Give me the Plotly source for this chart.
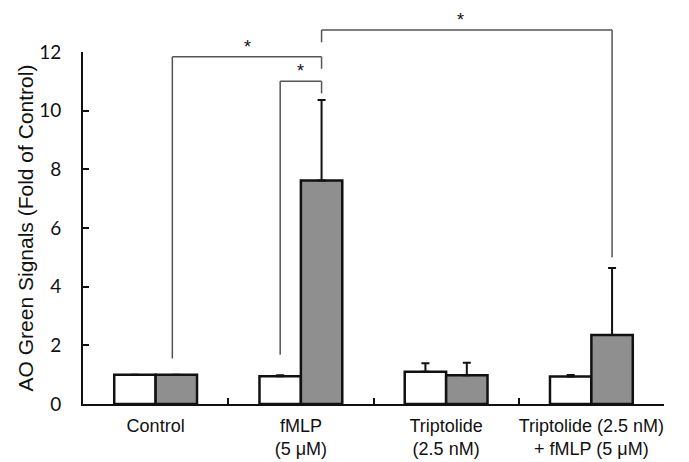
import plotly.graph_objects as go

categories = ["Control", "fMLP<br>(5 μM)", "Triptolide<br>(2.5 nM)", "Triptolide (2.5 nM)<br>+ fMLP (5 μM)"]
white_vals = [1.0, 0.95, 1.10, 0.94]
white_err = [0.0, 0.03, 0.29, 0.05]
grey_vals = [1.0, 7.62, 0.98, 2.35]
grey_err = [0.0, 2.74, 0.43, 2.29]

y_ticks = [0, 2, 4, 6, 8, 10, 12]
Y_MAX = 12

# significance brackets: x_left, x_right (category index units), y_left_bottom, y_top, y_right_bottom
brackets = [
    (0.115, 1.1425, 1.55, 11.84, 11.43),
    (0.8575, 1.1425, 1.68, 11.00, 10.59),
    (1.1425, 3.1425, 12.33, 12.75, 5.00),
]
stars_x = [0.635, 1.0, 2.10]
stars_y = [11.84, 11.00, 12.75]

fig = go.Figure()
for vals, errs, col in [(white_vals, white_err, "white"), (grey_vals, grey_err, "#8f8f8f")]:
    fig.add_trace(go.Bar(
        x=categories, y=vals,
        marker=dict(color=col, line=dict(color="#111111", width=2.5)),
        error_y=dict(type="data", symmetric=False, array=errs, arrayminus=[0] * len(errs),
                     color="#111111", thickness=2, width=4),
        showlegend=False,
    ))


def py(v):
    return v / Y_MAX


shapes = []
for (xl, xr, yl, yt, yr) in brackets:
    for (x0, y0, x1, y1) in [(xl, yl, xl, yt), (xl, yt, xr, yt), (xr, yt, xr, yr)]:
        shapes.append(dict(type="line", xref="x", yref="paper",
                           x0=x0, x1=x1, y0=py(y0), y1=py(y1),
                           line=dict(color="#555555", width=1.5)))

annotations = []
for sx, sy in zip(stars_x, stars_y):
    annotations.append(dict(x=sx, y=py(sy), xref="x", yref="paper", text="*",
                            showarrow=False, yanchor="bottom", yshift=-2,
                            font=dict(family="Liberation Sans, Arial", size=18, color="#111111")))

# page body has an 8px default margin, so the figure is sized to fit the 689x462 window
fig.update_layout(
    width=681, height=454,
    margin=dict(l=75, r=25, t=44, b=58),
    paper_bgcolor="white", plot_bgcolor="white",
    barmode="group", bargap=0.43, bargroupgap=0,
    shapes=shapes, annotations=annotations,
    xaxis=dict(
        type="category", tickson="boundaries", ticks="inside", ticklen=6, tickwidth=2,
        tickcolor="#111111", showline=True, linewidth=2, linecolor="#111111",
        showgrid=False, range=[-0.5, 3.5], tickangle=0, automargin=False,
        ticklabelstandoff=4,
        tickfont=dict(family="Liberation Sans, Arial", size=18, color="#111111"),
    ),
    yaxis=dict(
        range=[0, Y_MAX], tickvals=y_ticks, ticks="inside", ticklen=6, tickwidth=2,
        tickcolor="#111111", showline=True, linewidth=2, linecolor="#111111",
        showgrid=False, zeroline=False, automargin=False, ticklabelstandoff=16,
        tickfont=dict(family="Lato", size=19, color="#111111"),
        title=dict(text="AO Green Signals (Fold of Control)",
                   font=dict(family="Liberation Sans, Arial", size=21, color="#111111"), standoff=0),
    ),
)

fig.write_html("out.html")
